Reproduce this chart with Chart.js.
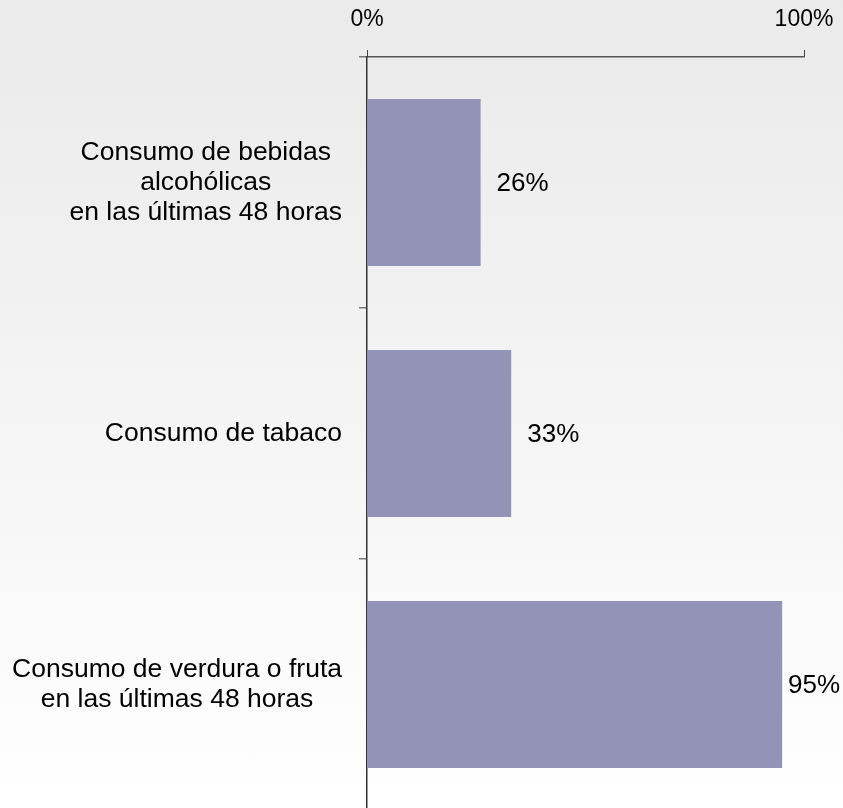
<!DOCTYPE html>
<html>
<head>
<meta charset="utf-8">
<script src="https://cdn.jsdelivr.net/npm/chart.js@4.4.1/dist/chart.umd.min.js"></script>
<style>
    html, body { margin: 0; padding: 0; overflow: hidden; }
    body { width: 843px; height: 808px; background: linear-gradient(to bottom, #eaeaea 0%, #f4f4f4 50%, #ffffff 100%); }
    #wrap { width: 843px; height: 811px; position: relative; }
</style>
</head>
<body>
<div id="wrap"><canvas id="myChart"></canvas></div>
<script>
const categories = [
    ["Consumo de bebidas", "alcohólicas", "en las últimas 48 horas"],
    ["Consumo de tabaco"],
    ["Consumo de verdura o fruta", "en las últimas 48 horas"]
];
const values = [26, 33, 95];
const xTicks = [0, 100];

const FONT = "'Liberation Sans', Arial, sans-serif";

// category labels: lines centered inside a block, blocks right aligned
const categoryLabels = {
    id: 'categoryLabels',
    afterDraw(chart) {
        const ctx = chart.ctx;
        const yScale = chart.scales.y;
        const right = chart.chartArea.left - 25;
        const lineHeight = 30;
        ctx.save();
        ctx.font = "26.5px " + FONT;
        ctx.fillStyle = "#000";
        ctx.textAlign = "center";
        ctx.textBaseline = "middle";
        categories.forEach((lines, i) => {
            const w = Math.max(...lines.map(l => ctx.measureText(l).width));
            const cx = right - w / 2;
            const cy = yScale.getPixelForValue(i);
            const top = cy - (lines.length - 1) * lineHeight / 2;
            lines.forEach((l, j) => ctx.fillText(l, cx, top + j * lineHeight));
        });
        ctx.restore();
    }
};

const valueLabels = {
    id: 'valueLabels',
    afterDatasetsDraw(chart) {
        const ctx = chart.ctx;
        const meta = chart.getDatasetMeta(0);
        ctx.save();
        ctx.font = "26px " + FONT;
        ctx.fillStyle = "#000";
        ctx.textAlign = "left";
        ctx.textBaseline = "middle";
        meta.data.forEach((bar, i) => {
            const text = values[i] + "%";
            const w = ctx.measureText(text).width;
            const x = Math.min(bar.x + 16, chart.width - w - 3);
            ctx.fillText(text, x, bar.y + 1);
        });
        ctx.restore();
    }
};

new Chart(document.getElementById("myChart"), {
    type: 'bar',
    data: {
        labels: categories.map(c => c.join(" ")),
        datasets: [{
            data: values,
            backgroundColor: 'rgb(147, 147, 183)',
            borderWidth: 0,
            categoryPercentage: 0.665,
            barPercentage: 1
        }]
    },
    options: {
        indexAxis: 'y',
        responsive: true,
        maintainAspectRatio: false,
        animation: false,
        layout: { padding: { top: 0, right: 39, bottom: 1, left: 0 } },
        plugins: {
            legend: { display: false },
            tooltip: { enabled: false }
        },
        scales: {
            x: {
                position: 'top',
                min: 0,
                max: 100,
                afterBuildTicks: (scale) => { scale.ticks = xTicks.map(v => ({ value: v })); },
                afterFit: (scale) => { scale.height = 57; scale.paddingLeft = 0; scale.paddingRight = 0; },
                ticks: {
                    callback: (v) => v + "%",
                    color: '#000',
                    font: { family: FONT, size: 23 },
                    padding: 17,
                    maxRotation: 0
                },
                grid: { drawOnChartArea: false, drawTicks: true, tickLength: 7, color: '#444', lineWidth: 1 },
                border: { display: true, color: '#555', width: 1.5 }
            },
            y: {
                position: 'left',
                ticks: { display: false },
                afterFit: (scale) => { scale.width = 367; },
                grid: { offset: true, drawOnChartArea: false, drawTicks: true, tickLength: 8, color: '#777', lineWidth: 1.5 },
                border: { display: true, color: '#333', width: 1.5 }
            }
        }
    },
    plugins: [categoryLabels, valueLabels]
});
</script>
</body>
</html>
